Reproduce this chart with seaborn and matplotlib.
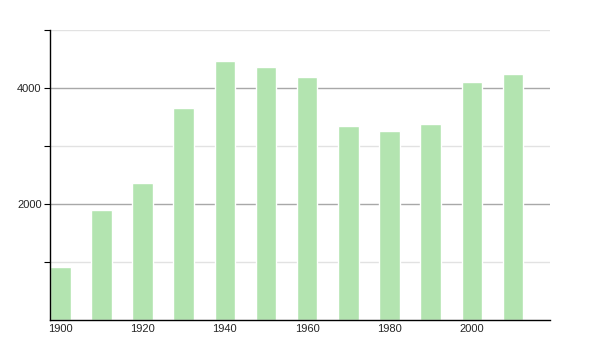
import matplotlib
matplotlib.use("Agg")
import matplotlib.pyplot as plt
import seaborn as sns
import pandas as pd

years = [1900, 1910, 1920, 1930, 1940, 1950, 1960, 1970, 1980, 1990, 2000, 2010]
population = [914, 1897, 2362, 3655, 4466, 4362, 4190, 3345, 3259, 3379, 4103, 4241]

sns.set_style("white")
plt.rcParams['font.family'] = ['Liberation Sans', 'DejaVu Sans']

df = pd.DataFrame({"year": [str(y) for y in years], "pop": population})

fig = plt.figure(figsize=(6, 3.5), dpi=100)
ax = fig.add_axes([50/600, 30/350, 500/600, 290/350])

sns.barplot(data=df, x="year", y="pop", color="#b3e4b0", saturation=1,
            width=0.5, ax=ax, zorder=3)

ax.set_ylim(0, 5000)
ax.set_xlim(-0.25, 11.9)

for v in [1000, 3000, 5000]:
    ax.axhline(v, color="#e2e2e2", lw=1, zorder=1)
for v in [2000, 4000]:
    ax.axhline(v, color="#a8a8a8", lw=1, zorder=1)

ax.set_yticks([1000, 2000, 3000, 4000, 5000])
ax.set_yticklabels(["", "2000", "", "4000", ""])
ax.set_xticks(range(0, 12, 2))
ax.set_xticklabels([str(y) for y in years[::2]])
ax.tick_params(axis="y", length=4, width=0.8, color="black", labelsize=8, pad=2, left=True)
ax.tick_params(axis="x", length=0, labelsize=8, pad=3)
ax.set_xlabel("")
ax.set_ylabel("")

for s in ["top", "right"]:
    ax.spines[s].set_visible(False)
for s in ["left", "bottom"]:
    ax.spines[s].set_color("black")
    ax.spines[s].set_linewidth(1)
    ax.spines[s].set_zorder(4)

fig.savefig("out.png", dpi=100)
